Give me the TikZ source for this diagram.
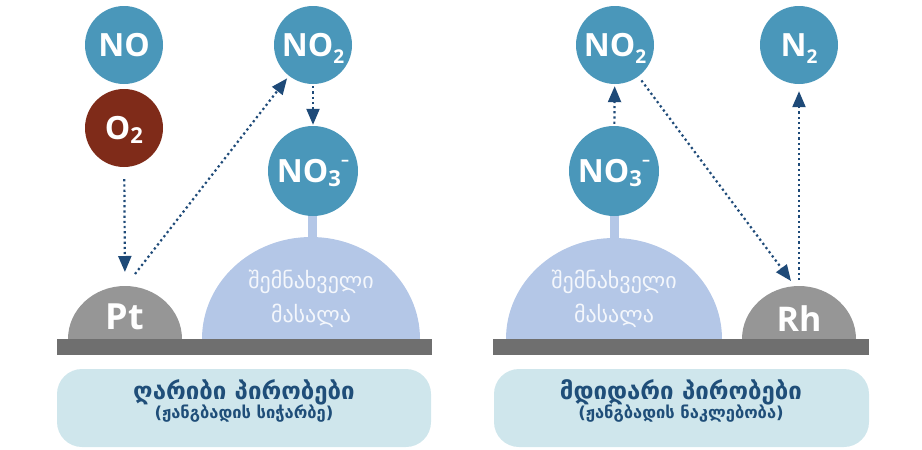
\documentclass[tikz,border=0pt]{standalone}
\usepackage{fontspec}
\setmainfont{Open Sans}
\newfontfamily\geo{DejaVu Sans}
\usetikzlibrary{arrows.meta}
\definecolor{molblue}{RGB}{74,151,186}
\definecolor{oxred}{RGB}{127,43,25}
\definecolor{arrblue}{RGB}{30,74,120}
\definecolor{domeblue}{RGB}{180,199,231}
\definecolor{metal}{RGB}{150,150,150}
\definecolor{barg}{RGB}{111,111,111}
\definecolor{labbg}{RGB}{207,230,236}
\definecolor{labtxt}{RGB}{31,78,121}
\definecolor{dometxt}{RGB}{244,247,252}
\newcommand{\subn}[1]{\smash{\raisebox{-7pt}{\fontsize{19}{19}\selectfont #1}}}
\newcommand{\subt}[1]{\smash{\raisebox{-4pt}{\fontsize{22}{22}\selectfont #1}}}
\newcommand{\supm}{\smash{\raisebox{17pt}{\fontsize{16}{16}\selectfont\textendash}}}
\tikzset{
  mol/.style={circle, inner sep=0pt, minimum size=#1, text=white,
    font=\fontsize{32}{36}\selectfont\bfseries},
  mol/.default=78pt,
  arr/.style={draw=arrblue, line width=2.2pt, dash pattern=on 2.2pt off 3pt,
    -{Triangle[length=16pt,width=13pt]}},
  metaltxt/.style={text=white, font=\fontsize{36}{40}\selectfont\bfseries},
  storetxt/.style={text=dometxt, font=\geo\fontsize{22}{34}\selectfont, align=center},
  labbox/.style={fill=labbg, rounded corners=25pt},
  labtitle/.style={text=labtxt, font=\geo\bfseries\fontsize{24}{26}\selectfont},
  labsub/.style={text=labtxt, font=\geo\bfseries\fontsize{16.5}{18}\selectfont}
}
\begin{document}
\begin{tikzpicture}[x=1pt,y=-1pt]
\useasboundingbox (0,0) rectangle (922,450);
% ---------- left panel ----------
\fill[domeblue] (308,210) rectangle (317,240);
\fill[domeblue] (202,339) arc[start angle=180,end angle=0,x radius=109pt,y radius=102pt] -- cycle;
\fill[metal] (68,339) arc[start angle=180,end angle=0,x radius=57pt,y radius=53pt] -- cycle;
\fill[barg] (57,339) rectangle (432,355);
\node[storetxt] (storeL) at (311,299) {შემნახველი\\მასალა};
\node[metaltxt] (pt) at (125,317) {Pt};
\node[mol, fill=molblue] (noL) at (124,45) {NO};
\node[mol, fill=oxred] (o2) at (124,128) {O\subt{2}};
\node[mol, fill=molblue] (no2L) at (313,45) {NO\subn{2}};
\node[mol=90pt, fill=molblue] (no3L) at (313,171) {NO\subt{3}\supm};
\coordinate (ptT) at (125,286);
\coordinate (ptR) at (135,274);
\draw[arr, shorten <=12pt, shorten >=14pt] (o2) -- (ptT);
\draw[arr, shorten >=3pt] (ptR) -- (no2L);
\draw[arr, shorten <=2pt, shorten >=1pt] (no2L) -- (no3L);
\fill[labbox] (57,369) rectangle (431,447);
\node[labtitle] (titleL) at (244,392) {ღარიბი პირობები};
\node[labsub] (subL) at (244,414) {(ჟანგბადის სიჭარბე)};
% ---------- right panel ----------
\fill[domeblue] (610,210) rectangle (619,240);
\fill[domeblue] (506,339) arc[start angle=180,end angle=0,x radius=108pt,y radius=101pt] -- cycle;
\fill[metal] (742,339) arc[start angle=180,end angle=0,x radius=57pt,y radius=53pt] -- cycle;
\fill[barg] (493,339) rectangle (869,355);
\node[storetxt] (storeR) at (614,299) {შემნახველი\\მასალა};
\node[metaltxt, font=\fontsize{34}{38}\selectfont\bfseries] (rh) at (799,319) {Rh};
\node[mol, fill=molblue] (no2R) at (615,45) {NO\subn{2}};
\node[mol, fill=molblue] (n2) at (799,45) {N\subn{2}};
\node[mol=90pt, fill=molblue] (no3R) at (614,171) {NO\subt{3}\supm};
\coordinate (rhA) at (791,281);
\coordinate (rhT) at (799,280);
\draw[arr, shorten <=2pt, shorten >=2pt] (no3R) -- (no2R);
\draw[arr, shorten <=5pt] (no2R) -- (rhA);
\draw[arr, shorten >=7pt] (rhT) -- (n2);
\fill[labbox] (494,369) rectangle (869,447);
\node[labtitle] (titleR) at (681,392) {მდიდარი პირობები};
\node[labsub] (subR) at (681,414) {(ჟანგბადის ნაკლებობა)};
\end{tikzpicture}
\end{document}
